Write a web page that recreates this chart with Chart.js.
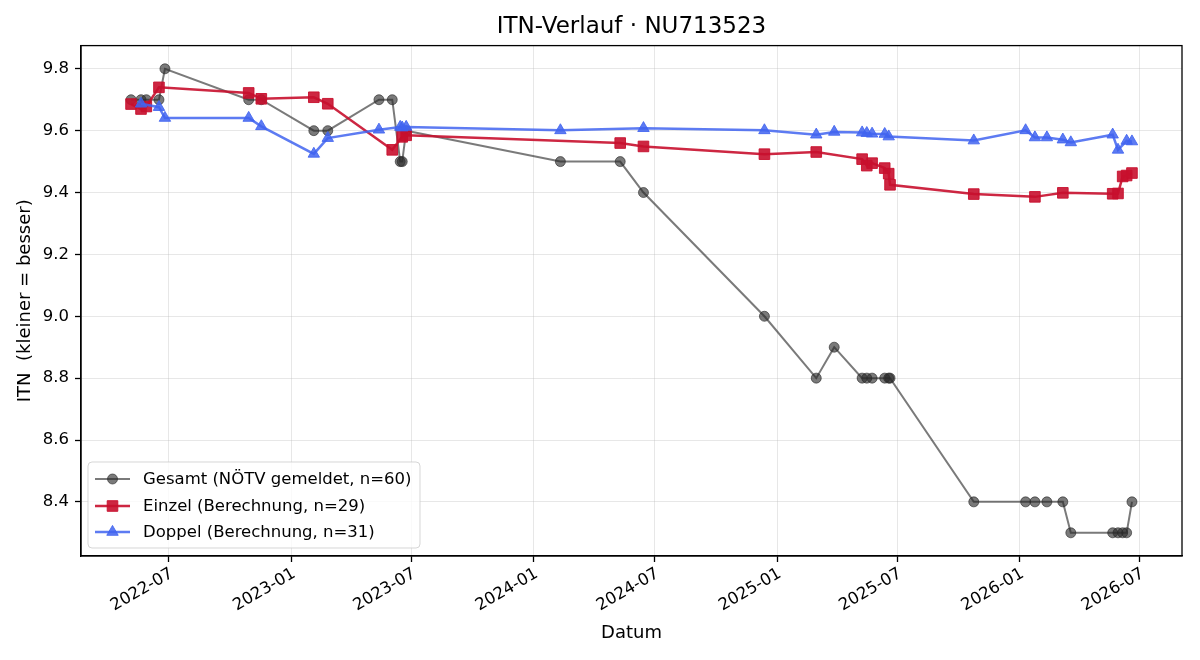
<!DOCTYPE html>
<html><head><meta charset="utf-8">
<script src="https://cdn.jsdelivr.net/npm/chart.js@4.4.0/dist/chart.umd.min.js"></script>
<style>html,body{margin:0;padding:0;background:#fff}#wrap{width:1200px;height:660px}</style>
</head><body><div id="wrap"><canvas id="c" width="1200" height="660"></canvas></div>
<script>
// ---- data ----
const gesamtDates = ['2022-05-05','2022-05-20','2022-05-28','2022-06-16','2022-06-25','2022-10-29','2022-11-17','2023-02-04','2023-02-25','2023-05-13','2023-06-02','2023-06-14','2023-06-17','2023-06-23','2024-02-10','2024-05-10','2024-06-14','2024-12-13','2025-03-01','2025-03-28','2025-05-09','2025-05-16','2025-05-24','2025-06-12','2025-06-18','2025-06-20','2025-10-24','2026-01-10','2026-01-24','2026-02-11','2026-03-07','2026-03-19','2026-05-21','2026-05-29','2026-06-05','2026-06-11','2026-06-19'];
const gesamtValues = [9.7,9.7,9.7,9.7,9.8,9.7,9.7,9.6,9.6,9.7,9.7,9.5,9.5,9.6,9.5,9.5,9.4,9.0,8.8,8.9,8.8,8.8,8.8,8.8,8.8,8.8,8.4,8.4,8.4,8.4,8.4,8.3,8.3,8.3,8.3,8.3,8.4];

const einzelDates = ['2022-05-05','2022-05-20','2022-05-28','2022-06-16','2022-10-29','2022-11-17','2023-02-04','2023-02-25','2023-06-02','2023-06-17','2023-06-23','2024-05-10','2024-06-14','2024-12-13','2025-03-01','2025-05-09','2025-05-16','2025-05-24','2025-06-12','2025-06-18','2025-06-20','2025-10-24','2026-01-24','2026-03-07','2026-05-21','2026-05-29','2026-06-05','2026-06-11','2026-06-19'];
const einzelValues = [9.686,9.670,9.678,9.740,9.722,9.703,9.708,9.687,9.538,9.580,9.585,9.560,9.549,9.524,9.531,9.508,9.487,9.495,9.479,9.461,9.425,9.395,9.386,9.399,9.396,9.397,9.452,9.455,9.463];

const doppelDates = ['2022-05-20','2022-06-16','2022-06-25','2022-10-29','2022-11-17','2023-02-04','2023-02-25','2023-05-13','2023-06-14','2023-06-17','2023-06-23','2024-02-10','2024-06-14','2024-12-13','2025-03-01','2025-03-28','2025-05-09','2025-05-16','2025-05-24','2025-06-12','2025-06-18','2025-10-24','2026-01-10','2026-01-24','2026-02-11','2026-03-07','2026-03-19','2026-05-21','2026-05-29','2026-06-11','2026-06-19'];
const doppelValues = [9.687,9.676,9.641,9.641,9.614,9.525,9.576,9.603,9.612,9.610,9.612,9.601,9.608,9.601,9.587,9.596,9.594,9.592,9.590,9.589,9.581,9.568,9.601,9.578,9.578,9.571,9.562,9.587,9.538,9.567,9.565];

const xTickLabels = ['2022-07','2023-01','2023-07','2024-01','2024-07','2025-01','2025-07','2026-01','2026-07'];
const yTickValues = [8.4,8.6,8.8,9.0,9.2,9.4,9.6,9.8];

const seriesLabels = ['Gesamt (NÖTV gemeldet, n=60)','Einzel (Berechnung, n=29)','Doppel (Berechnung, n=31)'];
const chartTitle = 'ITN-Verlauf · NU713523';

// ---- helpers ----
function toMs(s){const p=s.split('-').map(Number);return Date.UTC(p[0],p[1]-1,p[2]||1);}
function fmt(v){const d=new Date(v);return d.getUTCFullYear()+'-'+String(d.getUTCMonth()+1).padStart(2,'0');}
function pts(ds,vs){return ds.map((d,i)=>({x:toMs(d),y:vs[i]}));}

const allX=[...gesamtDates,...einzelDates,...doppelDates].map(toMs);
const xMinD=Math.min(...allX), xMaxD=Math.max(...allX), xr=xMaxD-xMinD;
const allY=[...gesamtValues,...einzelValues,...doppelValues];
const yMinD=Math.min(...allY), yMaxD=Math.max(...allY), yr=yMaxD-yMinD;

const FONT='DejaVu Sans';
const GRAY='rgba(40,40,40,0.62)', RED='rgba(200,16,46,0.9)', BLUE='rgba(65,100,240,0.85)';
const styles=[
  {color:GRAY,lw:2,ps:'circle',r:5},
  {color:RED,lw:2.5,ps:'rect',r:7.5},
  {color:BLUE,lw:2.5,ps:'triangle',r:6.6}
];

function marker(ctx,ps,x,y,r,color){
  ctx.save();ctx.fillStyle=color;ctx.strokeStyle=color;ctx.lineWidth=1;ctx.beginPath();
  if(ps==='circle'){ctx.arc(x,y,r,0,Math.PI*2);}
  else if(ps==='rect'){const h=r*Math.SQRT1_2;ctx.rect(x-h,y-h,2*h,2*h);}
  else {ctx.moveTo(x,y-r);ctx.lineTo(x+r*Math.sin(2*Math.PI/3),y-r*Math.cos(2*Math.PI/3));ctx.lineTo(x+r*Math.sin(4*Math.PI/3),y-r*Math.cos(4*Math.PI/3));ctx.closePath();}
  ctx.fill();ctx.stroke();ctx.restore();
}

const framePlugin={id:'frame',afterDraw(chart){
  const {ctx,chartArea:a}=chart;
  ctx.save();ctx.strokeStyle='#000';ctx.lineWidth=1.3;
  ctx.strokeRect(a.left,a.top,a.right-a.left,a.bottom-a.top);
  // legend
  const bx=88,by=462,bw=332,bh=86,rr=4;
  ctx.beginPath();
  ctx.moveTo(bx+rr,by);ctx.lineTo(bx+bw-rr,by);ctx.quadraticCurveTo(bx+bw,by,bx+bw,by+rr);
  ctx.lineTo(bx+bw,by+bh-rr);ctx.quadraticCurveTo(bx+bw,by+bh,bx+bw-rr,by+bh);
  ctx.lineTo(bx+rr,by+bh);ctx.quadraticCurveTo(bx,by+bh,bx,by+bh-rr);
  ctx.lineTo(bx,by+rr);ctx.quadraticCurveTo(bx,by,bx+rr,by);ctx.closePath();
  ctx.fillStyle='rgba(255,255,255,0.8)';ctx.fill();
  ctx.strokeStyle='rgba(204,204,204,0.8)';ctx.lineWidth=1;ctx.stroke();
  const rows=[479,506,532];
  seriesLabels.forEach((t,i)=>{
    const s=styles[i],y=rows[i];
    ctx.strokeStyle=s.color;ctx.lineWidth=s.lw;ctx.beginPath();ctx.moveTo(95,y);ctx.lineTo(130,y);ctx.stroke();
    marker(ctx,s.ps,112.5,y,s.r,s.color);
    ctx.fillStyle='#000';ctx.font='16.5px "'+FONT+'"';ctx.textBaseline='middle';ctx.textAlign='left';
    ctx.fillText(t,143,y+1);
  });
  ctx.restore();
}};

const datasets=[[gesamtDates,gesamtValues],[einzelDates,einzelValues],[doppelDates,doppelValues]].map((p,i)=>{
  const s=styles[i];
  return {label:seriesLabels[i],data:pts(p[0],p[1]),borderColor:s.color,backgroundColor:s.color,
    borderWidth:s.lw,pointStyle:s.ps,pointRadius:s.r,pointBackgroundColor:s.color,pointBorderColor:s.color,
    pointBorderWidth:1,tension:0,order:3-i,clip:false};
});

new Chart(document.getElementById('c'),{
  type:'line',
  data:{datasets},
  options:{
    responsive:false,animation:false,devicePixelRatio:1,
    layout:{padding:{left:0,right:18,top:0,bottom:0}},
    plugins:{legend:{display:false},tooltip:{enabled:false},
      title:{display:true,fullSize:false,text:chartTitle,color:'#000',font:{family:FONT,size:23,weight:'normal'},padding:{top:13,bottom:5}}},
    scales:{
      x:{type:'linear',min:xMinD-0.05*xr,max:xMaxD+0.05*xr,
        afterBuildTicks:s=>{s.ticks=xTickLabels.map(l=>({value:toMs(l)}));},
        afterFit:s=>{s.height=104;},
        ticks:{callback:v=>fmt(v),autoSkip:false,maxRotation:30,minRotation:30,color:'#000',font:{family:FONT,size:16.5},padding:2,labelOffset:3},
        grid:{color:'rgba(176,176,176,0.3)',lineWidth:1,tickColor:'#000',tickLength:6,tickWidth:1.3},
        border:{color:'#000',width:1.3},
        title:{display:true,text:'Datum',color:'#000',font:{family:FONT,size:18},padding:{top:0,bottom:16}}},
      y:{type:'linear',min:yMinD-0.05*yr,max:yMaxD+0.05*yr,
        afterBuildTicks:s=>{s.ticks=yTickValues.map(v=>({value:v}));},
        afterFit:s=>{s.width=81;},
        ticks:{callback:v=>v.toFixed(1),color:'#000',font:{family:FONT,size:16.5},padding:6},
        grid:{color:'rgba(176,176,176,0.3)',lineWidth:1,tickColor:'#000',tickLength:6,tickWidth:1.3},
        border:{color:'#000',width:1.3},
        title:{display:true,text:'ITN  (kleiner = besser)',color:'#000',font:{family:FONT,size:18},padding:{top:15,bottom:0}}}
    }
  },
  plugins:[framePlugin]
});
</script></body></html>
